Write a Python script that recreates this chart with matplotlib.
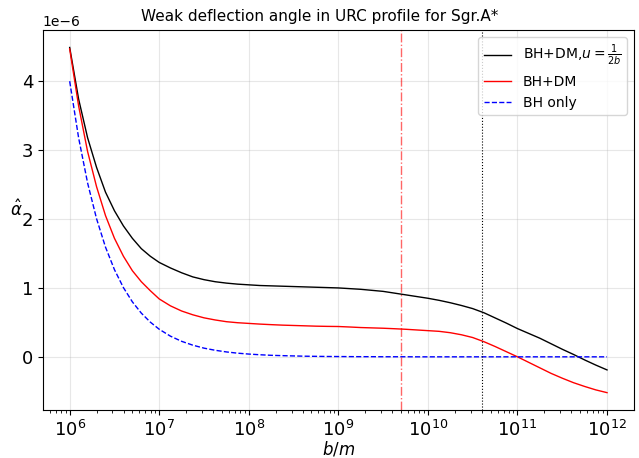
import numpy as np
from matplotlib import pyplot as plt

# log10(b/m) sample positions and curve values (units of 1e-6)
log_b = [6.0, 6.1, 6.2, 6.3, 6.4, 6.5, 6.6, 6.7, 6.8, 6.9,
         7.0, 7.125, 7.25, 7.375, 7.5, 7.625, 7.75, 7.875,
         8.0, 8.125, 8.25, 8.375, 8.5, 8.625, 8.75, 8.875,
         9.0, 9.125, 9.25, 9.375, 9.5, 9.625, 9.75, 9.875,
         10.0, 10.125, 10.25, 10.375, 10.5, 10.625, 10.75, 10.875,
         11.0, 11.125, 11.25, 11.375, 11.5, 11.625, 11.75, 11.875, 12.0]

alpha_dm_u = [4.49, 3.74, 3.18, 2.75, 2.39, 2.12, 1.90, 1.72, 1.57, 1.46,
              1.37, 1.29, 1.22, 1.16, 1.12, 1.09, 1.07, 1.055,
              1.045, 1.035, 1.03, 1.025, 1.02, 1.015, 1.01, 1.005,
              1.00, 0.99, 0.98, 0.965, 0.95, 0.925, 0.90, 0.875,
              0.85, 0.82, 0.785, 0.745, 0.70, 0.64, 0.565, 0.49,
              0.41, 0.34, 0.27, 0.19, 0.11, 0.035, -0.045, -0.12, -0.19]

alpha_dm = [4.47, 3.64, 2.98, 2.47, 2.05, 1.72, 1.46, 1.25, 1.09, 0.96,
            0.84, 0.74, 0.665, 0.61, 0.566, 0.535, 0.51, 0.495,
            0.485, 0.475, 0.467, 0.46, 0.455, 0.45, 0.445, 0.442,
            0.44, 0.433, 0.425, 0.42, 0.415, 0.408, 0.40, 0.39,
            0.38, 0.37, 0.35, 0.32, 0.28, 0.22, 0.15, 0.075,
            0.0, -0.08, -0.16, -0.24, -0.31, -0.375, -0.43, -0.48, -0.52]

alpha_bh = [4.0, 3.177, 2.524, 2.005, 1.592, 1.265, 1.005, 0.798, 0.634, 0.504,
            0.400, 0.300, 0.225, 0.169, 0.126, 0.095, 0.071, 0.053,
            0.040, 0.030, 0.022, 0.017, 0.013, 0.009, 0.007, 0.005,
            0.004, 0.003, 0.002, 0.002, 0.001, 0.001, 0.001, 0.0,
            0.0, 0.0, 0.0, 0.0, 0.0, 0.0, 0.0, 0.0,
            0.0, 0.0, 0.0, 0.0, 0.0, 0.0, 0.0, 0.0, 0.0]

b_red_line = 5e9
b_black_line = 4e10

b = 10.0 ** np.array(log_b)
scale = 1e-6

fig = plt.figure(figsize=(6.39, 4.58), dpi=100)
ax = fig.add_axes([0.067, 0.105, 0.925, 0.829])

ax.plot(b, np.array(alpha_dm_u) * scale, color='black', linewidth=1,
        label=r'BH+DM,$u=\frac{1}{2b}$')
ax.plot(b, np.array(alpha_dm) * scale, color='red', linewidth=1, label='BH+DM')
ax.plot(b, np.array(alpha_bh) * scale, color='blue', linewidth=1, linestyle='--',
        label='BH only')

ax.axvline(b_red_line, color='red', linestyle='-.', linewidth=1, alpha=0.6)
ax.axvline(b_black_line, color='black', linestyle=':', linewidth=0.8)

ax.set_xscale('log')
ax.grid(True, alpha=0.3)
ax.tick_params(axis='both', labelsize=13)
ax.yaxis.get_offset_text().set_fontsize(10)

# title is centred on the figure, not on the axes
fig.suptitle('Weak deflection angle in URC profile for Sgr.A*', fontsize=11,
             x=0.5, y=0.965, va='center')
ax.set_xlabel(r'$b/m$', fontsize=12, labelpad=0)
ax.set_ylabel(r'$\hat{\alpha}$', fontsize=12, rotation=0)

ax.legend(loc='upper right', fontsize=10)

fig.savefig('out.png', dpi=100)
